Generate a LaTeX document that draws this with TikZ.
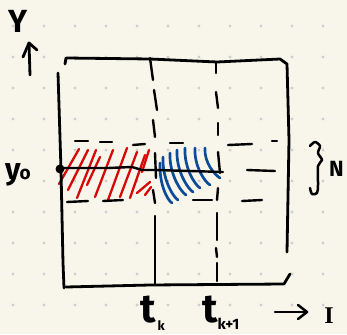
\documentclass[tikz,border=0pt]{standalone}
\usepackage{fontspec}
\newfontfamily\handf{Fira Sans}
\newfontfamily\serf{Liberation Serif}
\definecolor{paper}{HTML}{F8F6EB}
\definecolor{dotc}{HTML}{CECECE}
\definecolor{hred}{HTML}{D60808}
\definecolor{hblue}{HTML}{0B4B98}
\tikzset{
  frame/.style={line width=2.8pt, line cap=round, line join=round, black},
  dline/.style={line width=2.4pt, line cap=round, black},
  redh/.style={line width=2.3pt, line cap=round, hred},
  blueh/.style={line width=2.7pt, line cap=round, hblue},
  hand/.style={inner sep=0pt, font=\handf\bfseries},
}
\begin{document}
\begin{tikzpicture}[x=1pt,y=-1pt]
\fill[paper] (0,0) rectangle (347,334);
\useasboundingbox (0,0) rectangle (347,334);
% dot grid
\foreach \i in {0,...,10}
  \foreach \j in {0,...,9}
    \fill[dotc] (13+31*\i,26+31*\j) circle (1.6);
% red hatching
\foreach \a/\b/\c/\d in {59/184/79/149, 68/190/88/150, 77/198/96/150, 87/185/100/157,
   95/197/113/150, 108/200/127/148, 120/197/137/152, 130/198/145/155,
   142/172/149/150, 137/193/150/182, 145/195/151/187}
  \draw[redh] (\a,\b) -- (\c,\d);
% blue hatching
\foreach \a/\b/\c/\d in {160/163/172/203, 163/157/178/200, 170/153/186/195,
   177/150/193/192, 185/148/200/188, 195/148/210/185, 205/148/220/178}
  \draw[blueh] (\a,\b) .. controls (\a-1,{\b+0.5*(\d-\b)}) and (\c-5,\d-3) .. (\c,\d);
% frame
\draw[frame] (65,64) -- (66,58) -- (150,59) -- (217,62) -- (280,59) -- (287,64) -- (289,140) -- (287,252);
\draw[frame] (58,73) -- (61,170) -- (63,263) -- (64,288);
\draw[frame] (66,287) -- (150,285) -- (284,284) -- (290,274);
% vertical dashed lines
\draw[dline] (150,58) -- (153,80);
\draw[dline] (154,90) -- (157,110);
\draw[dline] (153,120) -- (155,137);
\draw[dline] (155,153) -- (156,178);
\draw[dline] (153,190) -- (155,203);
\draw[dline] (155,216) -- (155,284);
\draw[dline] (216,62) -- (216,73);
\draw[dline] (216,92) -- (218,108);
\draw[dline] (218,123) -- (218,135);
\draw[dline] (218,152) -- (220,173);
\draw[dline] (218,188) -- (217,200);
\draw[dline] (217,213) -- (217,240);
\draw[dline] (216,248) -- (217,257);
\draw[dline] (217,263) -- (217,281);
% upper dashes
\foreach \a/\b/\c/\d in {75/141/88/141, 100/142/112/142, 133/145/145/144,
   170/143/183/143, 228/145/252/144, 272/141/277/141}
  \draw[dline] (\a,\b) -- (\c,\d);
% y0 line
\draw[dline] (60,168) -- (88,168) -- (108,168) -- (132,167) -- (142,170) -- (155,170) -- (190,171) -- (223,172);
\draw[dline] (247,170) -- (275,171);
% lower dashes
\foreach \a/\b/\c/\d in {67/202/88/201, 103/201/123/200, 193/200/212/200, 242/201/262/200}
  \draw[dline] (\a,\b) -- (\c,\d);
% y0 dot
\fill (60,169) circle (4.5);
% Y axis label and arrow
\node[hand, font=\handf\bfseries\fontsize{32}{32}\selectfont] (ylab) at (18,21) {Y};
\coordinate (ya) at (30,75);
\coordinate (yb) at (29,43);
\draw[frame] (ya) -- (yb);
\draw[frame] (23,57) -- (yb) -- (37,50);
% y0 label
\node[hand, anchor=base west] (y0) at (5,179)
  {\fontsize{30}{30}\selectfont y\kern-1pt{\fontsize{19}{19}\selectfont o}};
% brace and N
\draw[frame, line width=2.5pt] plot[smooth] coordinates {(310,146) (315,142) (320,146) (318,153) (322,160) (318,166) (318,185) (317,193) (312,194) (310,188)};
\node[hand, anchor=base west, font=\handf\bfseries\fontsize{22}{22}\selectfont] (N) at (329,176) {N};
% t labels
\node[hand, anchor=base west] (tk) at (140,322)
  {\fontsize{40}{40}\selectfont t\kern2pt\raisebox{-8pt}{\fontsize{13}{13}\selectfont k}};
\node[hand, anchor=base west] (tk1) at (202,322)
  {\fontsize{40}{40}\selectfont t\kern0pt\raisebox{-7pt}{\fontsize{15}{15}\selectfont k+1}};
% I axis arrow and label
\coordinate (xa) at (275,312);
\coordinate (xb) at (307,312);
\draw[frame, line width=2.5pt] (xa) -- (xb);
\draw[frame, line width=2.5pt] (298,305) -- (xb) -- (298,319);
\node[inner sep=0pt, anchor=base, font=\serf\bfseries\fontsize{24}{24}\selectfont] (I) at (329,323) {I};
\end{tikzpicture}
\end{document}
